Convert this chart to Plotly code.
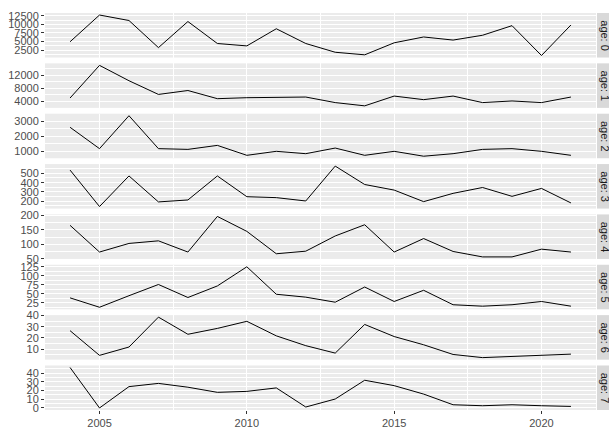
import plotly.graph_objs as go
from plotly.subplots import make_subplots

years = list(range(2004, 2022))

# values per age class
age0 = [4900, 12700, 11100, 3200, 10800, 4400, 3700, 8700, 4400, 1850, 1100, 4600, 6300, 5400, 6800, 9600, 900, 9800]
age1 = [5000, 15000, 10300, 6100, 7300, 4800, 5100, 5300, 5300, 3600, 2600, 5600, 4500, 5600, 3600, 4100, 3600, 5300]
age2 = [2600, 1160, 3380, 1160, 1110, 1380, 710, 980, 820, 1200, 710, 980, 650, 820, 1110, 1160, 980, 710]
age3 = [535, 143, 472, 193, 214, 472, 249, 239, 203, 578, 380, 320, 196, 285, 348, 253, 338, 182]
age4 = [166, 73, 103, 112, 73, 197, 145, 67, 76, 129, 168, 73, 120, 75, 56, 56, 83, 73]
age5 = [39, 13, 45, 76, 40, 72, 125, 49, 41, 27, 69, 29, 60, 20, 16, 20, 29, 16]
age6 = [26.5, 4.6, 12, 38.5, 23.3, 28.5, 34.8, 21.9, 13.2, 6.6, 32, 21.3, 14, 5.4, 2.6, 3.7, 4.9, 5.7]
age7 = [46.6, 0, 24.6, 28.3, 23.9, 18, 19.1, 23.1, 1.1, 10.3, 31.9, 25.7, 16, 3.7, 2.6, 3.7, 2.6, 1.8]

series = [age0, age1, age2, age3, age4, age5, age6, age7]
labels = ['age: 0', 'age: 1', 'age: 2', 'age: 3', 'age: 4', 'age: 5', 'age: 6', 'age: 7']
steps = [2500, 4000, 1000, 100, 50, 25, 10, 10]

W, H = 609, 436
ml, mr, mt, mb = 45, 13, 7, 20
ph = H - mt - mb
pw = W - ml - mr
gap = 6

fig = make_subplots(rows=8, cols=1, shared_xaxes=True, vertical_spacing=gap / ph)

tickfont = dict(family='Liberation Sans, Arial', size=11, color='#4D4D4D')

for i, (vals, step) in enumerate(zip(series, steps)):
    r = i + 1
    fig.add_trace(go.Scatter(x=years, y=vals, mode='lines',
                             line=dict(color='black', width=1), showlegend=False),
                  row=r, col=1)
    lo, hi = min(vals), max(vals)
    pad = (hi - lo) * 0.05
    fig.update_yaxes(range=[lo - pad, hi + pad], tick0=0, dtick=step, tickformat='d',
                     showgrid=True, gridcolor='white', gridwidth=1,
                     minor=dict(dtick=step / 2, tick0=0, showgrid=True, gridcolor='white', gridwidth=0.5),
                     ticks='outside', ticklen=3, tickcolor='#333333', tickwidth=1,
                     showline=False, zeroline=False, tickfont=tickfont,
                     row=r, col=1)
    fig.update_xaxes(range=[2003.15, 2021.85], tick0=2005, dtick=5,
                     showgrid=True, gridcolor='white', gridwidth=1,
                     minor=dict(dtick=2.5, tick0=2005, showgrid=True, gridcolor='white', gridwidth=0.5),
                     showline=False, zeroline=False, tickfont=tickfont,
                     showticklabels=(r == 8), ticks='outside' if r == 8 else '',
                     ticklen=3, tickcolor='#333333', tickwidth=1,
                     row=r, col=1)

    # facet strip on the right
    yax = fig.layout['yaxis' if r == 1 else 'yaxis%d' % r]
    d0, d1 = yax.domain
    fig.add_shape(type='rect', xref='paper', yref='paper',
                  x0=1 + 1 / pw, x1=1 + 13 / pw, y0=d0, y1=d1,
                  fillcolor='#D9D9D9', line=dict(width=0), layer='above')
    fig.add_annotation(xref='paper', yref='paper', x=1 + 9 / pw, y=(d0 + d1) / 2,
                       xanchor='center', yanchor='middle',
                       text=labels[i], textangle=90, showarrow=False,
                       font=dict(family='Liberation Sans, Arial', size=11, color='#1A1A1A'))

fig.update_layout(width=W, height=H, margin=dict(l=ml, r=mr, t=mt, b=mb),
                  plot_bgcolor='#EBEBEB', paper_bgcolor='white')

fig.write_html("out.html", config={'displayModeBar': False},
               post_script="document.body.style.margin='0';")
